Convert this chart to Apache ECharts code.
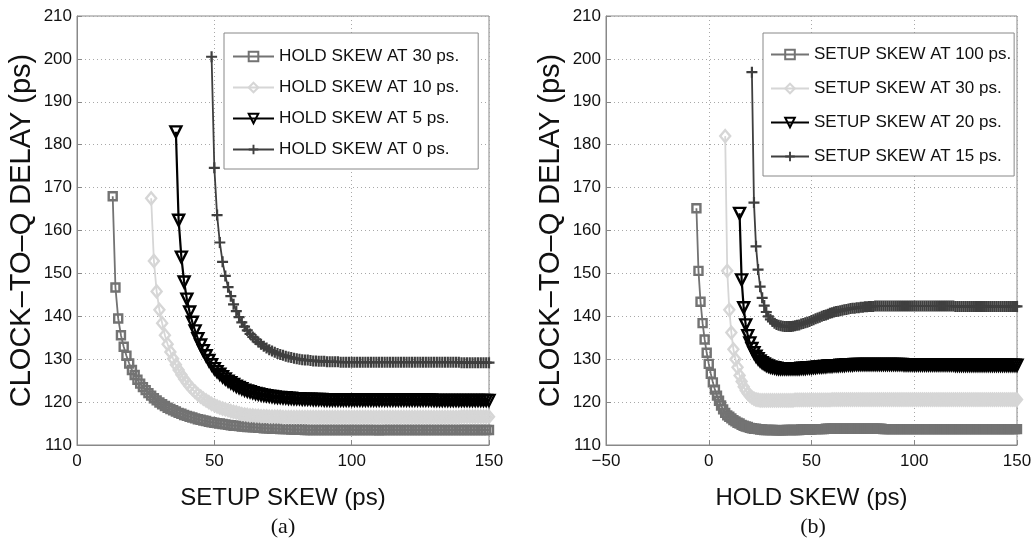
<!DOCTYPE html>
<html>
<head>
<meta charset="utf-8">
<script src="https://cdn.jsdelivr.net/npm/echarts@6/dist/echarts.min.js"></script>
<style>
  html, body { margin: 0; padding: 0; background: #fff; }
  #chart { width: 1035px; height: 540px; }
</style>
</head>
<body>
<div id="chart"></div>
<script>
// ---- Panel (a): clock-to-Q delay vs. setup skew, for several hold skews ----
const SETUP_SKEW = [
  13, 14, 15, 16, 17, 18, 19,
  20, 21, 22, 23, 24, 25, 26, 27, 28, 29,
  30, 31, 32, 33, 34, 35, 36, 37, 38, 39,
  40, 41, 42, 43, 44, 45, 46, 47, 48, 49,
  50, 51, 52, 53, 54, 55, 56, 57, 58, 59,
  60, 61, 62, 63, 64, 65, 66, 67, 68, 69,
  70, 71, 72, 73, 74, 75, 76, 77, 78, 79,
  80, 81, 82, 83, 84, 85, 86, 87, 88, 89,
  90, 91, 92, 93, 94, 95, 96, 97, 98, 99,
  100, 101, 102, 103, 104, 105, 106, 107, 108, 109,
  110, 111, 112, 113, 114, 115, 116, 117, 118, 119,
  120, 121, 122, 123, 124, 125, 126, 127, 128, 129,
  130, 131, 132, 133, 134, 135, 136, 137, 138, 139,
  140, 141, 142, 143, 144, 145, 146, 147, 148, 149,
  150
];

// Each delay list ends at the last setup skew (150 ps).
const HOLD_30 = [
  168.0, 146.7, 139.5, 135.6, 132.9, 130.8, 129.0,
  127.5, 126.3, 125.2, 124.3, 123.5, 122.8, 122.1, 121.5, 120.9, 120.4,
  119.9, 119.5, 119.1, 118.7, 118.4, 118.1, 117.8, 117.5, 117.3, 117.0,
  116.8, 116.6, 116.4, 116.2, 116.0, 115.9, 115.7, 115.6, 115.4, 115.3,
  115.2, 115.1, 115.0, 114.9, 114.8, 114.7, 114.6, 114.5, 114.5, 114.4,
  114.3, 114.3, 114.2, 114.2, 114.1, 114.1, 114.0, 114.0, 113.9, 113.9,
  113.9, 113.8, 113.8, 113.8, 113.7, 113.7, 113.7, 113.7, 113.6, 113.6,
  113.6, 113.6, 113.6, 113.5, 113.5, 113.5, 113.5, 113.5, 113.5, 113.5,
  113.5, 113.5, 113.5, 113.5, 113.5, 113.5, 113.5, 113.5, 113.5, 113.5,
  113.5, 113.5, 113.5, 113.5, 113.5, 113.5, 113.5, 113.5, 113.5, 113.5,
  113.4, 113.5, 113.5, 113.5, 113.5, 113.5, 113.5, 113.5, 113.5, 113.5,
  113.5, 113.5, 113.5, 113.5, 113.5, 113.5, 113.5, 113.5, 113.5, 113.5,
  113.5, 113.5, 113.5, 113.5, 113.5, 113.5, 113.5, 113.5, 113.5, 113.5,
  113.5, 113.5, 113.5, 113.5, 113.5, 113.5, 113.5, 113.5, 113.5, 113.5,
  113.5
];
const HOLD_10 = [
  167.5, 152.9, 145.8,
  141.5, 138.4, 135.6, 133.5, 131.7, 130.1, 128.7, 127.5, 126.4, 125.4,
  124.5, 123.7, 123.0, 122.4, 121.8, 121.3, 120.8, 120.4, 120.0, 119.6,
  119.3, 119.0, 118.7, 118.5, 118.3, 118.1, 117.9, 117.7, 117.6, 117.4,
  117.2, 117.1, 117.0, 116.9, 116.9, 116.8, 116.8, 116.7, 116.7, 116.7,
  116.6, 116.6, 116.6, 116.6, 116.6, 116.5, 116.5, 116.5, 116.5, 116.5,
  116.5, 116.5, 116.5, 116.5, 116.5, 116.5, 116.5, 116.5, 116.5, 116.5,
  116.5, 116.5, 116.5, 116.5, 116.5, 116.5, 116.5, 116.5, 116.5, 116.5,
  116.5, 116.5, 116.5, 116.5, 116.5, 116.5, 116.5, 116.5, 116.5, 116.5,
  116.5, 116.5, 116.5, 116.5, 116.5, 116.5, 116.5, 116.5, 116.5, 116.5,
  116.5, 116.5, 116.5, 116.5, 116.5, 116.5, 116.5, 116.5, 116.5, 116.5,
  116.5, 116.5, 116.5, 116.5, 116.5, 116.5, 116.5, 116.5, 116.5, 116.5,
  116.6, 116.6, 116.6, 116.6, 116.6, 116.6, 116.6, 116.6, 116.6, 116.6,
  116.6
];
const HOLD_5 = [
  183.0, 162.4, 153.8, 148.0,
  144.0, 141.0, 138.6, 136.6, 134.8, 133.3, 132.0, 130.8, 129.7, 128.7,
  127.8, 127.1, 126.5, 125.9, 125.4, 124.9, 124.5, 124.1, 123.7, 123.4,
  123.1, 122.8, 122.6, 122.4, 122.2, 122.0, 121.9, 121.7, 121.6, 121.5,
  121.4, 121.3, 121.2, 121.1, 121.1, 121.0, 121.0, 120.9, 120.9, 120.8,
  120.8, 120.8, 120.7, 120.7, 120.7, 120.7, 120.6, 120.6, 120.6, 120.6,
  120.5, 120.5, 120.5, 120.5, 120.5, 120.5, 120.5, 120.5, 120.5, 120.5,
  120.5, 120.5, 120.5, 120.5, 120.5, 120.5, 120.5, 120.5, 120.5, 120.5,
  120.5, 120.5, 120.5, 120.5, 120.5, 120.5, 120.5, 120.5, 120.5, 120.5,
  120.5, 120.5, 120.5, 120.5, 120.5, 120.5, 120.5, 120.5, 120.5, 120.5,
  120.4, 120.4, 120.4, 120.4, 120.4, 120.4, 120.4, 120.4, 120.4, 120.4,
  120.4, 120.4, 120.4, 120.4, 120.4, 120.4, 120.4, 120.4, 120.4, 120.4,
  120.4
];
const HOLD_0 = [
  200.5,
  174.6, 163.6, 157.2, 152.7, 149.4, 146.8, 144.7, 142.8, 141.2, 139.8,
  138.6, 137.6, 136.7, 135.9, 135.2, 134.6, 134.0, 133.5, 133.0, 132.6,
  132.2, 131.9, 131.6, 131.3, 131.1, 130.9, 130.7, 130.5, 130.4, 130.2,
  130.1, 130.0, 129.9, 129.8, 129.8, 129.7, 129.6, 129.6, 129.5, 129.5,
  129.5, 129.4, 129.4, 129.4, 129.4, 129.4, 129.3, 129.3, 129.3, 129.3,
  129.3, 129.3, 129.3, 129.3, 129.3, 129.3, 129.3, 129.3, 129.3, 129.3,
  129.3, 129.3, 129.3, 129.3, 129.3, 129.3, 129.3, 129.3, 129.3, 129.3,
  129.3, 129.3, 129.3, 129.3, 129.3, 129.3, 129.3, 129.3, 129.3, 129.3,
  129.3, 129.3, 129.3, 129.3, 129.3, 129.3, 129.3, 129.3, 129.3, 129.3,
  129.2, 129.2, 129.2, 129.2, 129.2, 129.2, 129.2, 129.2, 129.2, 129.2,
  129.2
];

// ---- Panel (b): clock-to-Q delay vs. hold skew, for several setup skews ----
const HOLD_SKEW = [
  -6, -5, -4, -3, -2, -1,
  0, 1, 2, 3, 4, 5, 6, 7, 8, 9,
  10, 11, 12, 13, 14, 15, 16, 17, 18, 19,
  20, 21, 22, 23, 24, 25, 26, 27, 28, 29,
  30, 31, 32, 33, 34, 35, 36, 37, 38, 39,
  40, 41, 42, 43, 44, 45, 46, 47, 48, 49,
  50, 51, 52, 53, 54, 55, 56, 57, 58, 59,
  60, 61, 62, 63, 64, 65, 66, 67, 68, 69,
  70, 71, 72, 73, 74, 75, 76, 77, 78, 79,
  80, 81, 82, 83, 84, 85, 86, 87, 88, 89,
  90, 91, 92, 93, 94, 95, 96, 97, 98, 99,
  100, 101, 102, 103, 104, 105, 106, 107, 108, 109,
  110, 111, 112, 113, 114, 115, 116, 117, 118, 119,
  120, 121, 122, 123, 124, 125, 126, 127, 128, 129,
  130, 131, 132, 133, 134, 135, 136, 137, 138, 139,
  140, 141, 142, 143, 144, 145, 146, 147, 148, 149,
  150
];

const SETUP_100 = [
  165.2, 150.6, 143.4, 138.4, 134.6, 131.5,
  128.9, 126.6, 124.6, 122.9, 121.5, 120.3, 119.2, 118.3, 117.5, 116.9,
  116.6, 116.2, 115.8, 115.5, 115.2, 115.0, 114.7, 114.5, 114.3, 114.2,
  114.0, 113.9, 113.8, 113.8, 113.7, 113.6, 113.6, 113.5, 113.5, 113.5,
  113.5, 113.5, 113.5, 113.4, 113.4, 113.4, 113.4, 113.5, 113.5, 113.5,
  113.5, 113.5, 113.5, 113.5, 113.5, 113.6, 113.6, 113.6, 113.6, 113.6,
  113.6, 113.7, 113.7, 113.7, 113.7, 113.7, 113.7, 113.8, 113.8, 113.8,
  113.8, 113.8, 113.8, 113.8, 113.8, 113.8, 113.8, 113.8, 113.8, 113.8,
  113.8, 113.8, 113.8, 113.8, 113.8, 113.8, 113.8, 113.8, 113.8, 113.8,
  113.8, 113.8, 113.8, 113.8, 113.8, 113.7, 113.7, 113.7, 113.7, 113.7,
  113.7, 113.7, 113.7, 113.7, 113.7, 113.7, 113.7, 113.7, 113.7, 113.7,
  113.7, 113.7, 113.7, 113.7, 113.7, 113.7, 113.7, 113.7, 113.7, 113.7,
  113.7, 113.7, 113.7, 113.7, 113.7, 113.7, 113.7, 113.7, 113.7, 113.7,
  113.7, 113.7, 113.7, 113.7, 113.7, 113.7, 113.7, 113.7, 113.7, 113.7,
  113.7, 113.7, 113.7, 113.7, 113.7, 113.7, 113.7, 113.7, 113.7, 113.7,
  113.7, 113.7, 113.7, 113.7, 113.7, 113.7, 113.7, 113.7, 113.7, 113.7,
  113.7
];
const SETUP_30 = [
  182.0, 150.6,
  141.5, 136.2, 132.3, 130.0, 128.1, 126.2, 124.8, 123.6, 122.7, 122.0,
  121.5, 121.1, 120.8, 120.6, 120.5, 120.4, 120.4, 120.4, 120.4, 120.4,
  120.4, 120.4, 120.4, 120.4, 120.4, 120.4, 120.4, 120.4, 120.4, 120.4,
  120.4, 120.4, 120.5, 120.5, 120.5, 120.5, 120.5, 120.5, 120.5, 120.5,
  120.5, 120.5, 120.5, 120.5, 120.5, 120.5, 120.5, 120.5, 120.5, 120.5,
  120.6, 120.6, 120.6, 120.6, 120.6, 120.6, 120.6, 120.6, 120.6, 120.6,
  120.6, 120.6, 120.6, 120.6, 120.6, 120.6, 120.6, 120.6, 120.6, 120.6,
  120.6, 120.6, 120.6, 120.6, 120.6, 120.6, 120.6, 120.6, 120.6, 120.6,
  120.6, 120.6, 120.6, 120.6, 120.6, 120.6, 120.6, 120.6, 120.6, 120.6,
  120.6, 120.6, 120.6, 120.6, 120.6, 120.6, 120.6, 120.6, 120.6, 120.6,
  120.6, 120.6, 120.6, 120.6, 120.6, 120.6, 120.6, 120.6, 120.6, 120.6,
  120.6, 120.6, 120.6, 120.6, 120.6, 120.6, 120.6, 120.6, 120.6, 120.6,
  120.6, 120.6, 120.6, 120.6, 120.6, 120.6, 120.6, 120.6, 120.6, 120.6,
  120.6, 120.6, 120.6, 120.6, 120.6, 120.6, 120.6, 120.6, 120.6, 120.6,
  120.6
];
const SETUP_20 = [
  164.0, 148.5, 142.0, 138.0, 135.5,
  133.8, 132.5, 131.5, 130.7, 130.1, 129.6, 129.2, 128.9, 128.6, 128.4,
  128.2, 128.1, 128.0, 127.9, 127.8, 127.8, 127.8, 127.8, 127.8, 127.8,
  127.8, 127.8, 127.8, 127.8, 127.8, 127.9, 127.9, 127.9, 128.0, 128.0,
  128.0, 128.1, 128.1, 128.2, 128.2, 128.2, 128.3, 128.3, 128.4, 128.4,
  128.4, 128.5, 128.5, 128.5, 128.6, 128.6, 128.6, 128.7, 128.7, 128.7,
  128.7, 128.8, 128.8, 128.8, 128.8, 128.8, 128.8, 128.8, 128.8, 128.8,
  128.8, 128.8, 128.8, 128.8, 128.8, 128.8, 128.8, 128.8, 128.8, 128.8,
  128.8, 128.8, 128.8, 128.8, 128.8, 128.7, 128.7, 128.7, 128.7, 128.7,
  128.7, 128.7, 128.7, 128.7, 128.7, 128.7, 128.7, 128.7, 128.7, 128.7,
  128.7, 128.7, 128.7, 128.7, 128.7, 128.7, 128.7, 128.7, 128.7, 128.7,
  128.6, 128.6, 128.6, 128.6, 128.6, 128.6, 128.6, 128.6, 128.6, 128.6,
  128.6, 128.6, 128.6, 128.6, 128.6, 128.6, 128.6, 128.6, 128.6, 128.6,
  128.6, 128.6, 128.6, 128.6, 128.6, 128.6, 128.6, 128.6, 128.6, 128.6,
  128.6
];
const SETUP_15 = [
  196.9, 166.5, 156.3, 150.9, 146.9, 144.3, 142.5, 141.0, 140.0,
  139.3, 138.8, 138.4, 138.1, 137.9, 137.8, 137.7, 137.6, 137.6, 137.6,
  137.6, 137.7, 137.8, 137.9, 138.0, 138.2, 138.3, 138.5, 138.6, 138.8,
  139.0, 139.2, 139.4, 139.6, 139.8, 140.0, 140.2, 140.3, 140.5, 140.7,
  140.8, 141.0, 141.1, 141.2, 141.3, 141.4, 141.5, 141.6, 141.7, 141.8,
  141.9, 141.9, 142.0, 142.0, 142.1, 142.1, 142.2, 142.2, 142.3, 142.3,
  142.3, 142.4, 142.4, 142.4, 142.4, 142.4, 142.4, 142.4, 142.4, 142.4,
  142.4, 142.4, 142.4, 142.4, 142.4, 142.4, 142.4, 142.4, 142.4, 142.4,
  142.4, 142.4, 142.4, 142.4, 142.4, 142.4, 142.4, 142.4, 142.4, 142.4,
  142.4, 142.4, 142.4, 142.4, 142.4, 142.4, 142.4, 142.4, 142.4, 142.4,
  142.3, 142.3, 142.3, 142.3, 142.3, 142.3, 142.3, 142.3, 142.3, 142.3,
  142.3, 142.3, 142.3, 142.3, 142.3, 142.3, 142.3, 142.3, 142.3, 142.3,
  142.3, 142.3, 142.3, 142.3, 142.3, 142.3, 142.3, 142.3, 142.3, 142.3,
  142.3
];

const LEFT_NAMES = ['HOLD SKEW AT 30 ps.', 'HOLD SKEW AT 10 ps.', 'HOLD SKEW AT 5 ps.', 'HOLD SKEW AT 0 ps.'];
const RIGHT_NAMES = ['SETUP SKEW AT 100 ps.', 'SETUP SKEW AT 30 ps.', 'SETUP SKEW AT 20 ps.', 'SETUP SKEW AT 15 ps.'];
const Y_TITLE = 'CLOCK\u2013TO\u2013Q DELAY (ps)';

// Pair each delay list with the skew values it covers (lists end at 150 ps).
function pairUp(xs, ys) {
  const off = xs.length - ys.length;
  return ys.map((y, i) => [xs[off + i], y]);
}

const SANS = '"Liberation Sans", Arial, Helvetica, sans-serif';
const PLUS = 'path://M4,0H6V4H10V6H6V10H4V6H0V4H4Z';

// Marker / line styles shared by both panels (in legend order).
const STYLES = [
  { color: '#737373', symbol: 'rect', size: 8, hollow: true, width: 1.8, border: 2.4, rotate: 0 },
  { color: '#d6d6d6', symbol: 'diamond', size: [10, 12], hollow: true, width: 1.8, border: 2.4, rotate: 0 },
  { color: '#000000', symbol: 'triangle', size: 11, hollow: true, width: 2.2, border: 2.4, rotate: 180 },
  { color: '#3f3f3f', symbol: PLUS, size: 11, hollow: false, width: 1.8, border: 0, rotate: 0 }
];

function makeSeries(name, data, st, axisIdx) {
  return {
    type: 'line',
    name: name,
    xAxisIndex: axisIdx,
    yAxisIndex: axisIdx,
    data: data,
    symbol: st.symbol,
    symbolSize: st.size,
    symbolRotate: st.rotate,
    showSymbol: true,
    lineStyle: { color: st.color, width: st.width },
    itemStyle: st.hollow
      ? { color: 'rgba(255,255,255,0)', borderColor: st.color, borderWidth: st.border }
      : { color: st.color, borderWidth: 0 },
    emphasis: { disabled: true },
    animation: false
  };
}

function xAxis(gridIndex, min, name) {
  return {
    type: 'value', gridIndex: gridIndex, min: min, max: 150, interval: 50,
    name: name, nameLocation: 'middle', nameGap: 41,
    nameTextStyle: { fontFamily: SANS, fontSize: 24, color: '#111' },
    axisLine: { show: true, onZero: false, lineStyle: { color: '#888', width: 1 } },
    axisTick: { show: true, inside: true, length: 5, lineStyle: { color: '#888' } },
    axisLabel: {
      fontFamily: SANS, fontSize: 17, color: '#111', margin: 8,
      formatter: v => String(v).replace('-', '\u2212')
    },
    splitLine: { show: true, lineStyle: { color: '#a8a8a8', type: [1, 3], width: 1 } }
  };
}

function yAxis(gridIndex) {
  return {
    type: 'value', gridIndex: gridIndex, min: 110, max: 210, interval: 10,
    name: Y_TITLE, nameLocation: 'middle', nameGap: 41, nameRotate: 90,
    nameTextStyle: { fontFamily: SANS, fontSize: 29, color: '#111' },
    axisLine: { show: true, onZero: false, lineStyle: { color: '#888', width: 1 } },
    axisTick: { show: true, inside: true, length: 5, lineStyle: { color: '#888' } },
    axisLabel: { fontFamily: SANS, fontSize: 17, color: '#111', margin: 5 },
    splitLine: { show: true, lineStyle: { color: '#a8a8a8', type: [1, 3], width: 1 } }
  };
}

const leftData = [HOLD_30, HOLD_10, HOLD_5, HOLD_0].map(ys => pairUp(SETUP_SKEW, ys));
const rightData = [SETUP_100, SETUP_30, SETUP_20, SETUP_15].map(ys => pairUp(HOLD_SKEW, ys));

const series = [];
LEFT_NAMES.forEach((n, i) => series.push(makeSeries(n, leftData[i], STYLES[i], 0)));
RIGHT_NAMES.forEach((n, i) => series.push(makeSeries(n, rightData[i], STYLES[i], 1)));

const chart = echarts.init(document.getElementById('chart'), null, { renderer: 'canvas' });
chart.setOption({
  animation: false,
  backgroundColor: '#fff',
  grid: [
    { left: 77, top: 16, width: 412, height: 429, show: true, borderColor: '#888', borderWidth: 1, backgroundColor: 'transparent' },
    { left: 606, top: 16, width: 411, height: 429, show: true, borderColor: '#888', borderWidth: 1, backgroundColor: 'transparent' }
  ],
  xAxis: [xAxis(0, 0, 'SETUP SKEW (ps)'), xAxis(1, -50, 'HOLD SKEW (ps)')],
  yAxis: [yAxis(0), yAxis(1)],
  legend: [
    {
      data: LEFT_NAMES, orient: 'vertical', left: 224, top: 33,
      padding: [15, 19, 11, 8], itemGap: 14, itemWidth: 41, itemHeight: 12,
      textStyle: { fontFamily: SANS, fontSize: 17.2, color: '#111' },
      borderColor: '#888', borderWidth: 1, backgroundColor: '#fff', selectedMode: false
    },
    {
      data: RIGHT_NAMES, orient: 'vertical', left: 763, top: 33,
      padding: [13, 3, 11, 7], itemGap: 17, itemWidth: 38, itemHeight: 12,
      textStyle: { fontFamily: SANS, fontSize: 17, color: '#111' },
      borderColor: '#888', borderWidth: 1, backgroundColor: '#fff', selectedMode: false
    }
  ],
  graphic: [
    { type: 'text', x: 283, y: 527, style: { text: '(a)', align: 'center', verticalAlign: 'middle', font: '22px "Liberation Serif", "Times New Roman", serif', fill: '#111' } },
    { type: 'text', x: 813, y: 527, style: { text: '(b)', align: 'center', verticalAlign: 'middle', font: '22px "Liberation Serif", "Times New Roman", serif', fill: '#111' } }
  ],
  series: series
});
</script>
</body>
</html>
